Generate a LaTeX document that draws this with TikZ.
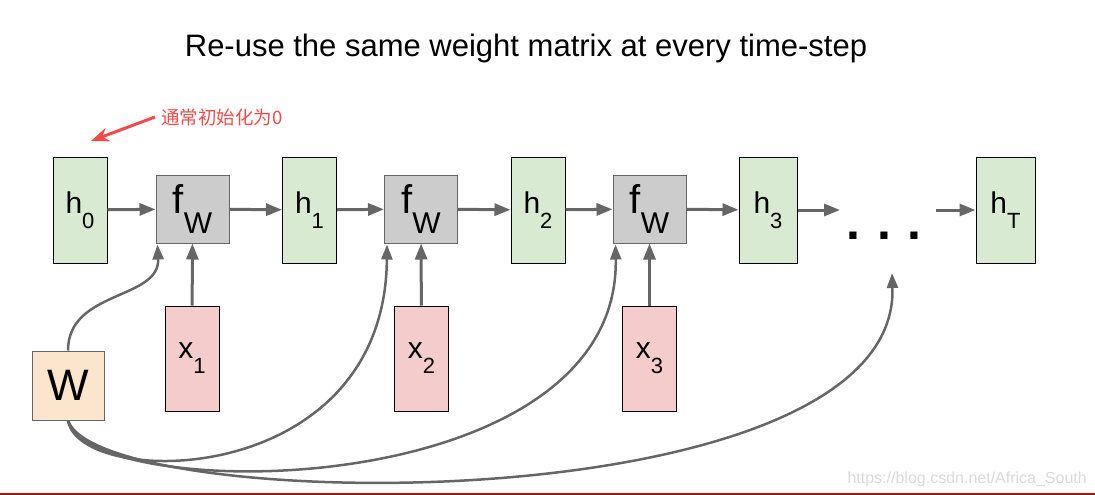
\documentclass[tikz,border=0pt]{standalone}
\usepackage{fontspec}
\setmainfont{Liberation Sans}
\newfontfamily\cjk{Noto Sans CJK SC}
\usetikzlibrary{arrows.meta,positioning,calc}

\definecolor{hgreen}{HTML}{D9EAD3}
\definecolor{fgray}{HTML}{CCCCCC}
\definecolor{xpink}{HTML}{F4CCCC}
\definecolor{worange}{HTML}{FCE5CD}
\definecolor{edgegray}{HTML}{666666}
\definecolor{notered}{HTML}{F24A4A}
\definecolor{markgray}{HTML}{DADADA}
\definecolor{rulered}{HTML}{A31515}

% 下付き文字（少し下げて小さく）
\newcommand{\lowsub}[2]{\raisebox{-0.5em}{\fontsize{#1}{#1}\selectfont #2}}

\tikzset{
  hbox/.style={draw=black,fill=hgreen,line width=1pt,minimum width=54pt,minimum height=106pt,inner sep=0pt,font=\fontsize{30}{30}\selectfont},
  fbox/.style={draw=edgegray,fill=fgray,line width=1pt,minimum width=73pt,minimum height=68pt,inner sep=0pt,font=\fontsize{40}{40}\selectfont},
  xbox/.style={draw=black,fill=xpink,line width=1pt,minimum width=54pt,minimum height=105pt,inner sep=0pt,font=\fontsize{30}{30}\selectfont},
  wbox/.style={draw=edgegray,fill=worange,line width=1pt,minimum width=72pt,minimum height=69pt,inner sep=0pt,font=\fontsize{44}{44}\selectfont},
  arr/.style={draw=edgegray,line width=3pt,-{Triangle[length=16pt,width=12pt]}},
  warr/.style={draw=edgegray,line width=2.5pt,-{Triangle[length=15pt,width=11pt]}},
}

\begin{document}
\begin{tikzpicture}[x=1pt,y=-1pt]
  \useasboundingbox (0,0) rectangle (1095,495);

  % タイトル
  \node[font=\fontsize{31}{31}\selectfont] (title) at (526,48) {Re-use the same weight matrix at every time-step};

  % 隠れ状態 h
  \node[hbox] (h0) at (80,210) {h\lowsub{22}{0}};
  \node[hbox] (h1) at (309.5,210) {h\lowsub{22}{1}};
  \node[hbox] (h2) at (538,210) {h\lowsub{22}{2}};
  \node[hbox,minimum width=58pt] (h3) at (768,210) {h\lowsub{22}{3}};
  \node[hbox,minimum width=59pt] (hT) at (1005.5,210) {h\lowsub{22}{T}};

  % 関数 f_W
  \node[fbox] (fw1) at (192.5,209) {f\lowsub{30}{W}};
  \node[fbox] (fw2) at (421,209) {f\lowsub{30}{W}};
  \node[fbox] (fw3) at (649.5,209) {f\lowsub{30}{W}};

  % 入力 x
  \node[xbox] (x1) at (192,358.5) {x\lowsub{22}{1}};
  \node[xbox] (x2) at (421.5,358.5) {x\lowsub{22}{2}};
  \node[xbox] (x3) at (649.5,358.5) {x\lowsub{22}{3}};

  % 重み W
  \node[wbox] (W) at (68,385.5) {W};

  % 省略記号
  \node[anchor=base,inner sep=0pt,font=\fontsize{50}{50}\selectfont\bfseries] (dots) at (884,239) {.\,\,.\,\,.};
  \coordinate (dotsin) at (840,210);
  \coordinate (dotsout) at (936,210);
  \coordinate (dotsup) at (892,273);

  % 横方向の矢印
  \draw[arr] (h0) -- (fw1);
  \draw[arr] (fw1) -- (h1);
  \draw[arr] (h1) -- (fw2);
  \draw[arr] (fw2) -- (h2);
  \draw[arr] (h2) -- (fw3);
  \draw[arr] (fw3) -- (h3);
  \draw[arr] (h3.east) -- (dotsin);
  \draw[arr] (dotsout) -- (hT.west);

  % 入力から f_W へ
  \draw[arr] (x1) -- (fw1);
  \draw[arr] (x2) -- (fw2);
  \draw[arr] (x3) -- (fw3);

  % W から各ステップへの曲線
  \draw[warr] (W.north) .. controls (68,290) and (160,300) .. ([xshift=2pt,yshift=-1pt]fw1.south west);
  \draw[warr] (W.south) .. controls (80,490) and (385,490) .. ([xshift=3pt,yshift=-1pt]fw2.south west);
  \draw[warr] (W.south) .. controls (90,505) and (620,505) .. ([xshift=3pt,yshift=-1pt]fw3.south west);
  \draw[warr] (W.south) .. controls (100,515) and (900,525) .. (dotsup);

  % 注釈
  \node[anchor=west,inner sep=0pt,text=notered,font=\cjk\fontsize{18.5}{18.5}\selectfont] (note) at (161,117) {通常初始化为0};
  \coordinate (notetip) at (91,141);
  \draw[draw=notered,line width=3pt,-{Stealth[length=18pt,width=14pt]}] ([xshift=-6pt]note.west) -- (notetip);

  % 透かしと下線
  \node[anchor=base east,inner sep=0pt,text=markgray,font=\fontsize{16}{16}\selectfont] (mark) at (1087,483) {https://blog.csdn.net/Africa\_South};
  \coordinate (ruleL) at (0,493.5);
  \coordinate (ruleR) at (1095,493.5);
  \draw[rulered,line width=2pt] (ruleL) -- (ruleR);
\end{tikzpicture}
\end{document}
